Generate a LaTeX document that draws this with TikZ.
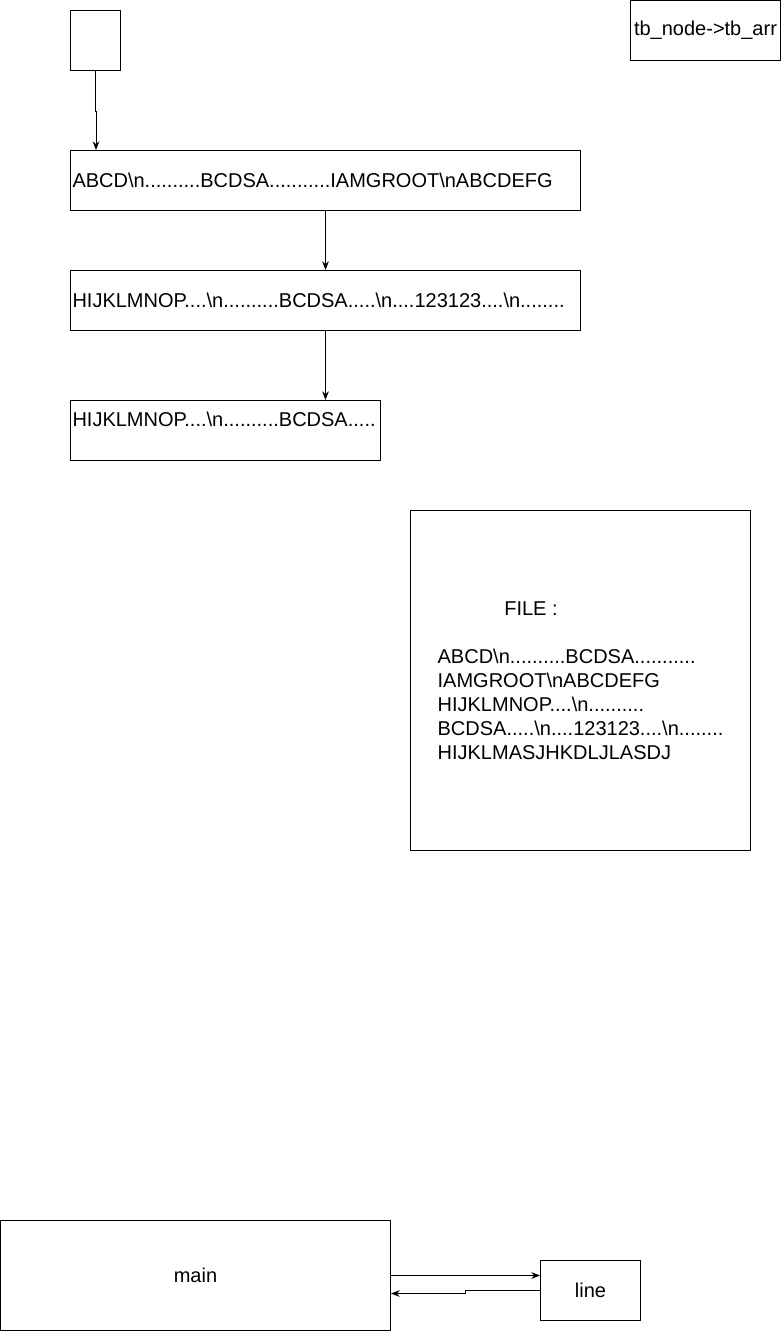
\documentclass[tikz,border=0pt]{standalone}
\usepackage{fontspec}
\setmainfont{Liberation Sans}
\usetikzlibrary{arrows.meta,positioning,calc}

\begin{document}
\begin{tikzpicture}[x=0.75pt,y=-0.75pt,>={Stealth[length=6.5pt,width=5pt]}, line width=0.75pt]
  \fontsize{15}{18}\selectfont
  \tikzset{
    box/.style={draw, inner sep=0pt, anchor=north west},
    rowbox/.style={box, minimum height=45pt, text width=#1, align=left, inner xsep=1.5pt},
    plain/.style={inner sep=0pt, anchor=base west}
  }
  \useasboundingbox (0,0) rectangle (781,1331);
  \node[box, minimum width=37.5pt, minimum height=45pt] (start) at (70,10) {};
  \node[box, minimum width=112.5pt, minimum height=45pt] (tbarr) at (630,0) {tb\_node->tb\_arr};
  \node[rowbox=379.5pt] (rowA) at (70,150) {ABCD\textbackslash n..........BCDSA...........IAMGROOT\textbackslash nABCDEFG};
  \node[rowbox=379.5pt] (rowB) at (70,270) {HIJKLMNOP....\textbackslash n..........BCDSA.....\textbackslash n....123123....\textbackslash n........};
  \node[box, minimum width=232.5pt, minimum height=45pt] (rowC) at (70,400) {};
  \node[plain] (rowCtxt) at ($(rowC.north west)+(2,26)$) {HIJKLMNOP....\textbackslash n..........BCDSA.....};
  \draw[->] (start.south) -- ++(0,40) -| ($(rowA.north west)+(26,0)$);
  \draw[->] (rowA.south) -- (rowB.north);
  \draw[->] (rowB.south) -- (rowB.south |- rowC.north);
  % file contents
  \node[box, minimum width=255pt, minimum height=255pt, align=left] (file) at (410,510)
    {\hspace*{50pt}FILE :\\[18pt]
     ABCD\textbackslash n..........BCDSA...........\\
     IAMGROOT\textbackslash nABCDEFG\\
     HIJKLMNOP....\textbackslash n..........\\
     BCDSA.....\textbackslash n....123123....\textbackslash n........\\
     HIJKLMASJHKDLJLASDJ};
  % main and line
  \node[box, minimum width=292.5pt, minimum height=82.5pt] (main) at (0,1220) {main};
  \node[box, minimum width=75pt, minimum height=45pt] (line) at (540,1260) {line};
  \draw[->] (main.east) -- (main.east -| line.west);
  \draw[->] (line.west) -- ++(-75,0) |- ($(main.east)+(0,18)$);
\end{tikzpicture}
\end{document}
